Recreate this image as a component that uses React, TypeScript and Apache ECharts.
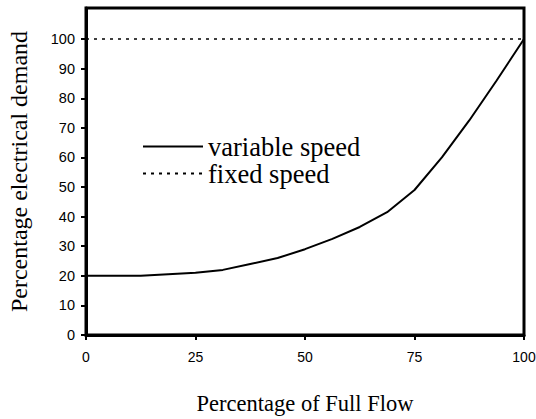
import React, { useEffect, useRef } from "react";
import * as echarts from "echarts";

const flowPct = [0, 6.25, 12.5, 18.75, 25, 31.25, 37.5, 43.75, 50, 56.25, 62.5, 68.75, 75, 81.25, 87.5, 93.75, 100];
const variableDemand = [20, 20, 20, 20.5, 21, 22, 24, 26, 29, 32.5, 36.5, 41.5, 49, 60, 72.5, 86, 100];
const fixedFlow = [0, 100];
const fixedDemand = [100, 100];
const yTicks = [0, 10, 20, 30, 40, 50, 60, 70, 80, 90, 100];
const xTicks = [0, 25, 50, 75, 100];

export default function App() {
  const ref = useRef<HTMLDivElement>(null);
  useEffect(() => {
    if (!ref.current) return;
    const chart = echarts.init(ref.current, undefined, { renderer: "svg" });
    const sans = "'Liberation Sans', Arial, sans-serif";
    const serif = "'Liberation Serif', 'Times New Roman', serif";
    chart.setOption({
      animation: false,
      backgroundColor: "#fff",
      grid: {
        left: 86,
        right: 12,
        top: 8,
        bottom: 84,
        outerBoundsMode: "none",
        containLabel: false,
        show: true,
        borderColor: "#000",
        borderWidth: 3,
        backgroundColor: "transparent",
      },
      legend: {
        orient: "vertical",
        left: 137,
        top: 128,
        itemWidth: 60,
        itemHeight: 14,
        itemGap: 0,
        itemStyle: { opacity: 0 },
        textStyle: { fontFamily: serif, fontSize: 26.5, color: "#000", lineHeight: 26, height: 26 },
        data: ["variable speed", "fixed speed"],
      },
      xAxis: {
        type: "value",
        min: 0,
        max: 100,
        interval: 25,
        name: "Percentage of Full Flow",
        nameLocation: "middle",
        nameGap: 57,
        nameTextStyle: { fontFamily: serif, fontSize: 22.5, color: "#000" },
        axisLine: { show: true, lineStyle: { color: "#000", width: 3 } },
        axisTick: { show: true, inside: false, length: 5, lineStyle: { color: "#000", width: 2 }, customValues: xTicks },
        axisLabel: { fontFamily: sans, fontSize: 14, color: "#000", margin: 15, customValues: xTicks },
        splitLine: { show: false },
      },
      yAxis: {
        type: "value",
        min: 0,
        max: 110.5,
        interval: 10,
        name: "Percentage electrical demand",
        nameLocation: "middle",
        nameGap: 55,
        nameTextStyle: { fontFamily: serif, fontSize: 24, color: "#000" },
        axisLine: { show: true, lineStyle: { color: "#000", width: 3 } },
        axisTick: { show: true, inside: false, length: 5, lineStyle: { color: "#000", width: 2 }, customValues: yTicks },
        axisLabel: {
          fontFamily: sans,
          fontSize: 14.5,
          color: "#000",
          margin: 11,
          customValues: yTicks,
          formatter: (v: number) => (v > 100 ? "" : String(v)),
        },
        splitLine: { show: false },
      },
      series: [
        {
          name: "variable speed",
          type: "line",
          symbol: "none",
          smooth: false,
          data: flowPct.map((x, i) => [x, variableDemand[i]]),
          lineStyle: { color: "#000", width: 2 },
          itemStyle: { color: "#000" },
        },
        {
          name: "fixed speed",
          type: "line",
          symbol: "none",
          data: fixedFlow.map((x, i) => [x, fixedDemand[i]]),
          lineStyle: { color: "#000", width: 1.5, type: [3, 5] },
          itemStyle: { color: "#000" },
        },
      ],
    });
    return () => chart.dispose();
  }, []);
  return <div ref={ref} style={{ width: 536, height: 419, position: "absolute", left: 0, top: 0 }} />;
}
